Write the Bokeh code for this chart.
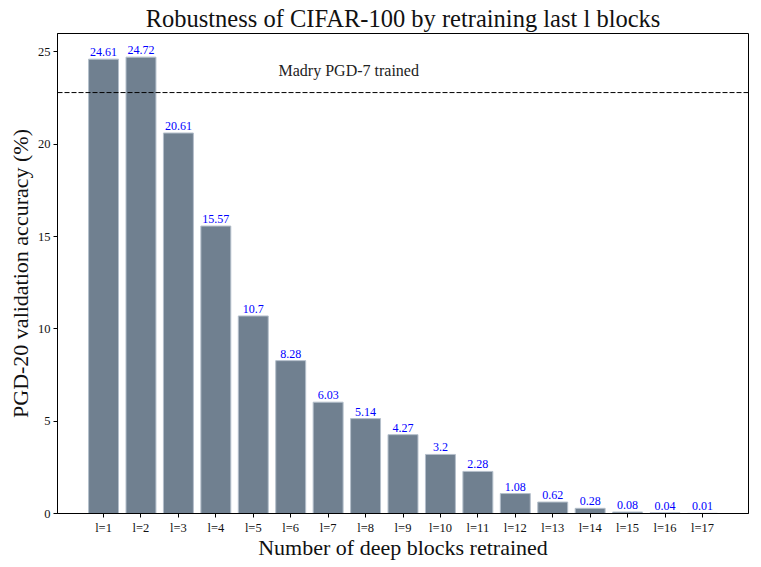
from bokeh.plotting import figure
from bokeh.models import ColumnDataSource, FactorRange, Range1d, FixedTicker, Span, Label
from bokeh.embed import file_html
from bokeh.resources import INLINE

# ---- data ----
categories = ["l=%d" % i for i in range(1, 18)]
accuracy = [24.61, 24.72, 20.61, 15.57, 10.7, 8.28, 6.03, 5.14, 4.27, 3.2,
            2.28, 1.08, 0.62, 0.28, 0.08, 0.04, 0.01]
value_labels = ["24.61", "24.72", "20.61", "15.57", "10.7", "8.28", "6.03", "5.14",
                "4.27", "3.2", "2.28", "1.08", "0.62", "0.28", "0.08", "0.04", "0.01"]
madry_accuracy = 22.8
madry_text = "Madry PGD-7 trained"
x_label = "Number of deep blocks retrained"
y_label = "PGD-20 validation accuracy (%)"
y_ticks = [0, 5, 10, 15, 20, 25]

FONT = "Liberation Serif"

src = ColumnDataSource(dict(x=categories, y=accuracy, lab=value_labels))

p = figure(
    x_range=FactorRange(*categories, range_padding=0.73, range_padding_units="absolute"),
    y_range=Range1d(0, 26),
    width=761, height=567,
    output_backend="svg", toolbar_location=None,
    title="Robustness of CIFAR-100 by retraining last l blocks",
    min_border_left=57, min_border_right=13, min_border_top=0, min_border_bottom=54,
)

p.vbar(x="x", top="y", width=0.8, source=src, fill_color="#708090",
       line_color="#b4bfcb", line_width=1)

p.text(x="x", y="y", text="lab", source=src, text_align="center",
       text_baseline="bottom", y_offset=-3, text_color="#0000ff",
       text_font_size="12px", text_font={"value": FONT})

p.add_layout(Span(location=madry_accuracy, dimension="width", line_color="black",
                  line_dash="5 2", line_width=1))
p.add_layout(Label(x=7.05, y=24.0, text=madry_text, text_align="center",
                   text_baseline="middle", text_font=FONT, text_font_size="16px",
                   text_color="#222222"))

p.title.align = "center"
p.title.text_font = FONT
p.title.text_font_size = "24.5px"
p.title.text_font_style = "normal"
p.title.text_color = "#111111"
p.title.standoff = 4

p.xgrid.visible = False
p.ygrid.visible = False
p.outline_line_color = "black"
p.outline_line_width = 1
p.outline_line_alpha = 1

p.yaxis.ticker = FixedTicker(ticks=y_ticks)
p.yaxis.minor_tick_line_color = None
p.yaxis.axis_label = y_label
p.xaxis.axis_label = x_label

for ax in (p.xaxis, p.yaxis):
    ax.axis_label_text_font = FONT
    ax.axis_label_text_font_size = "22px"
    ax.axis_label_text_font_style = "normal"
    ax.axis_label_text_color = "#111111"
    ax.major_label_text_font = FONT
    ax.major_label_text_font_size = "12.5px"
    ax.major_label_text_color = "#111111"
    ax.axis_line_color = "black"
    ax.major_tick_line_color = "black"
    ax.major_tick_out = 4
    ax.major_tick_in = 0
    ax.major_label_standoff = 3
    ax.axis_label_standoff = 2

p.xaxis.axis_label_standoff = -3

open("out.html", "w").write(file_html(p, INLINE))
